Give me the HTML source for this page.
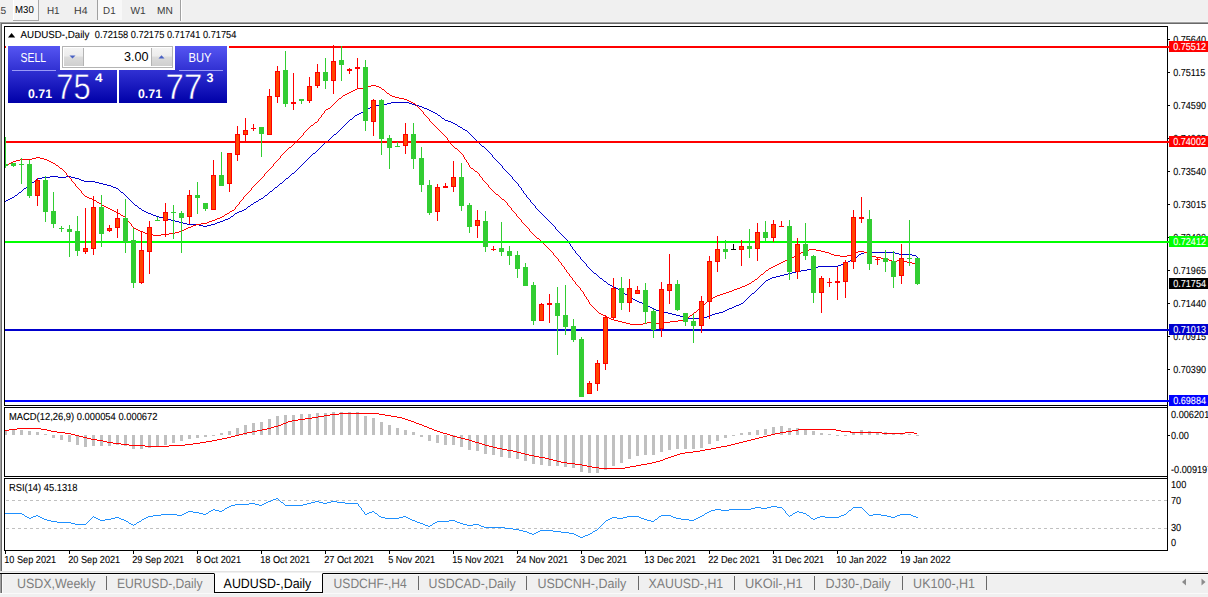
<!DOCTYPE html>
<html><head><meta charset="utf-8"><title>AUDUSD-,Daily</title>
<style>
html,body{margin:0;padding:0}
body{width:1208px;height:597px;overflow:hidden;background:#f0f0f0;position:relative;font-family:"Liberation Sans",sans-serif}
.abs{position:absolute}
#chart{position:absolute;left:0;top:0}
text{font-family:"Liberation Sans",sans-serif;text-rendering:geometricPrecision}
.t{font-size:10.2px;fill:#000;stroke:#000;stroke-width:.1px}
.w{font-size:10.2px;fill:#fff;stroke:#fff;stroke-width:.1px}
.tb{position:absolute;top:0;height:20px;line-height:20px;font-size:10.5px;color:#3c3c3c;white-space:pre}
.tab{position:absolute;top:574px;height:18px;line-height:18px;font-size:13.5px;color:#7d7d7d;white-space:pre}
.sep{position:absolute;top:576px;width:1px;height:14px;background:#696969}
</style></head><body>

<div class="abs" style="left:13px;top:0;width:25px;height:20px;background:#f6f6f6;border-right:1px solid #a8a8a8;border-bottom:1px solid #a8a8a8"></div>
<div class="abs" style="left:13px;top:0;width:1px;height:20px;background:#fff"></div>
<div class="abs" style="left:98px;top:0;width:24px;height:20px;background:#f8f8f8"></div>
<div class="abs" style="left:97px;top:0;width:1px;height:20px;background:#a0a0a0"></div>
<div class="abs" style="left:180px;top:0;width:1px;height:22px;background:#a0a0a0"></div>
<div class="abs" style="left:181px;top:0;width:1px;height:22px;background:#fff"></div>
<div class="abs" style="left:0;top:21px;width:1208px;height:1px;background:#f4f4f4"></div>
<div class="abs" style="left:0;top:22px;width:1208px;height:1px;background:#a0a0a0"></div>
<div class="abs" style="left:0;top:23px;width:1208px;height:1px;background:#696969"></div>
<div class="abs" style="left:0;top:24px;width:1208px;height:547px;background:#fff"></div>
<div class="abs" style="left:0;top:22px;width:1px;height:549px;background:#a0a0a0"></div>
<div class="abs" style="left:1px;top:23px;width:1px;height:548px;background:#696969"></div>
<div class="abs" style="left:0;top:571px;width:1208px;height:1px;background:#e3e3e3"></div>
<div class="abs" style="left:0;top:573px;width:1208px;height:1px;background:#000"></div>
<div class="abs" style="left:2px;top:574px;width:1206px;height:1px;background:#f8f8f8"></div>
<div class="abs" style="left:0;top:574px;width:1px;height:19px;background:#a0a0a0"></div>
<div class="abs" style="left:1px;top:574px;width:1px;height:19px;background:#696969"></div>
<div class="abs" style="left:2px;top:574px;width:1px;height:19px;background:#fbfbfb"></div>
<div class="abs" style="left:0;top:593px;width:1208px;height:1px;background:#fafafa"></div>
<svg id="chart" width="1208" height="597" viewBox="0 0 1208 597" shape-rendering="crispEdges">
<path fill="none" stroke="#0000cd" stroke-width="1" d="M391 102.5h18M387 103.5h4M409 103.5h3M380 104.5h7M412 104.5h3M375 105.5h5M415 105.5h4M372 106.5h3M419 106.5h3M370 107.5h2M422 107.5h2M368 108.5h2M424 108.5h3M366 109.5h2M427 109.5h2M364 110.5h2M429 110.5h2M363 111.5h1M431 111.5h2M361 112.5h2M433 112.5h2M359 113.5h2M435 113.5h2M357 114.5h2M437 114.5h1M355 115.5h2M438 115.5h2M354 116.5h1M440 116.5h1M353 117.5h1M441 117.5h1M352 118.5h1M442 118.5h2M350 119.5h2M444 119.5h1M349 120.5h1M445 120.5h3M348 121.5h1M448 121.5h3M347 122.5h1M451 122.5h2M346 123.5h1M453 123.5h2M345 124.5h1M455 124.5h2M344 125.5h1M457 125.5h1M343 126.5h1M458 126.5h2M342 127.5h1M460 127.5h2M341 128.5h1M462 128.5h1M340 129.5h1M463 129.5h2M339 130.5h1M465 130.5h2M338 131.5h1M467 131.5h1M337 132.5h1M468 132.5h1M336 133.5h1M469 133.5h1M334 134.5h2M470 134.5h1M333 135.5h1M471 135.5h1M332 136.5h1M472 136.5h1M331 137.5h1M473 137.5h1M330 138.5h1M474 138.5h1M329 139.5h1M475 139.5h1M328 140.5h1M476 140.5h1M327 141.5h1M477 141.5h1M325 142.5h2M478 142.5h1M324 143.5h1M479 143.5h1M323 144.5h1M480 144.5h1M322 145.5h1M481 145.5h1M321 146.5h1M482 146.5h2M320 147.5h1M484 147.5h1M319 148.5h1M485 148.5h1M318 149.5h1M486 149.5h1M317 150.5h1M487 150.5h1M316 151.5h1M488 151.5h1M315 152.5h1M489 152.5h1M313 153.5h2M490 153.5h1M312 154.5h1M491 154.5h1M311 155.5h1M492 155.5h1M310 156.5h1M492 156.5h1M309 157.5h1M493 157.5h1M308 158.5h1M494 158.5h1M307 159.5h1M495 159.5h1M306 160.5h1M496 160.5h1M305 161.5h1M497 161.5h1M304 162.5h1M498 162.5h1M303 163.5h1M499 163.5h1M302 164.5h1M500 164.5h1M301 165.5h1M501 165.5h1M300 166.5h1M502 166.5h1M299 167.5h1M502 167.5h1M298 168.5h1M503 168.5h1M297 169.5h1M504 169.5h1M296 170.5h1M505 170.5h1M295 171.5h1M506 171.5h1M294 172.5h1M507 172.5h1M292 173.5h2M508 173.5h1M291 174.5h1M509 174.5h1M290 175.5h1M510 175.5h1M50 176.5h8M66 176.5h5M289 176.5h1M511 176.5h1M42 177.5h8M58 177.5h8M71 177.5h4M288 177.5h1M512 177.5h1M38 178.5h4M75 178.5h4M286 178.5h2M512 178.5h1M36 179.5h2M79 179.5h2M285 179.5h1M513 179.5h1M35 180.5h1M81 180.5h3M284 180.5h1M514 180.5h1M34 181.5h1M84 181.5h11M283 181.5h1M515 181.5h1M32 182.5h2M95 182.5h4M282 182.5h1M516 182.5h1M31 183.5h1M99 183.5h4M280 183.5h2M517 183.5h1M30 184.5h1M103 184.5h4M279 184.5h1M518 184.5h1M28 185.5h2M107 185.5h4M278 185.5h1M518 185.5h1M27 186.5h1M111 186.5h2M277 186.5h1M519 186.5h1M26 187.5h1M113 187.5h3M275 187.5h2M520 187.5h1M24 188.5h2M116 188.5h2M274 188.5h1M521 188.5h1M23 189.5h1M118 189.5h1M273 189.5h1M521 189.5h1M22 190.5h1M119 190.5h1M272 190.5h1M522 190.5h1M21 191.5h1M120 191.5h1M270 191.5h2M523 191.5h1M19 192.5h2M121 192.5h2M269 192.5h1M523 192.5h1M18 193.5h1M123 193.5h1M268 193.5h1M524 193.5h1M17 194.5h1M124 194.5h1M267 194.5h1M525 194.5h1M15 195.5h2M125 195.5h1M265 195.5h2M526 195.5h1M14 196.5h1M126 196.5h1M264 196.5h1M526 196.5h1M12 197.5h2M127 197.5h1M263 197.5h1M527 197.5h1M10 198.5h2M128 198.5h1M261 198.5h2M528 198.5h1M8 199.5h2M129 199.5h1M259 199.5h2M529 199.5h1M6 200.5h2M130 200.5h1M258 200.5h1M530 200.5h1M5 201.5h1M131 201.5h1M256 201.5h2M530 201.5h1M132 202.5h1M254 202.5h2M531 202.5h1M133 203.5h1M253 203.5h1M532 203.5h1M134 204.5h1M251 204.5h2M533 204.5h1M135 205.5h2M250 205.5h1M534 205.5h1M137 206.5h1M248 206.5h2M535 206.5h1M138 207.5h1M247 207.5h1M535 207.5h1M139 208.5h2M246 208.5h1M536 208.5h1M141 209.5h1M244 209.5h2M537 209.5h1M142 210.5h2M242 210.5h2M538 210.5h1M144 211.5h2M239 211.5h3M539 211.5h1M146 212.5h2M237 212.5h2M540 212.5h1M148 213.5h3M235 213.5h2M541 213.5h1M151 214.5h2M234 214.5h1M542 214.5h1M153 215.5h3M233 215.5h1M543 215.5h1M156 216.5h3M231 216.5h2M544 216.5h1M159 217.5h4M230 217.5h1M545 217.5h1M163 218.5h4M228 218.5h2M546 218.5h1M167 219.5h4M225 219.5h3M547 219.5h1M171 220.5h4M223 220.5h2M548 220.5h1M175 221.5h4M220 221.5h3M549 221.5h1M179 222.5h4M217 222.5h3M550 222.5h1M183 223.5h4M215 223.5h2M551 223.5h1M187 224.5h12M211 224.5h4M552 224.5h1M199 225.5h4M207 225.5h4M553 225.5h1M203 226.5h4M554 226.5h1M555 227.5h1M555 228.5h1M556 229.5h1M557 230.5h1M558 231.5h1M559 232.5h1M560 233.5h1M561 234.5h1M562 235.5h1M563 236.5h1M564 237.5h1M565 238.5h1M566 239.5h1M567 240.5h1M568 241.5h1M568 242.5h1M569 243.5h1M570 244.5h1M570 245.5h1M571 246.5h1M572 247.5h1M572 248.5h1M573 249.5h1M574 250.5h1M575 251.5h1M575 252.5h1M864 252.5h31M576 253.5h1M861 253.5h3M895 253.5h4M577 254.5h1M859 254.5h2M899 254.5h13M578 255.5h1M858 255.5h1M912 255.5h4M579 256.5h1M857 256.5h1M916 256.5h1M580 257.5h1M855 257.5h2M917 257.5h1M580 258.5h1M854 258.5h1M581 259.5h1M852 259.5h2M582 260.5h1M850 260.5h2M583 261.5h1M848 261.5h2M584 262.5h1M846 262.5h2M585 263.5h1M844 263.5h2M586 264.5h1M841 264.5h3M586 265.5h1M838 265.5h3M587 266.5h1M818 266.5h20M588 267.5h1M814 267.5h4M589 268.5h1M811 268.5h3M590 269.5h1M807 269.5h4M591 270.5h1M801 270.5h6M592 271.5h1M796 271.5h5M593 272.5h1M792 272.5h4M594 273.5h2M788 273.5h4M596 274.5h1M784 274.5h4M597 275.5h1M780 275.5h4M598 276.5h1M776 276.5h4M599 277.5h1M772 277.5h4M600 278.5h2M770 278.5h2M602 279.5h1M768 279.5h2M603 280.5h1M766 280.5h2M604 281.5h2M765 281.5h1M606 282.5h1M764 282.5h1M607 283.5h1M763 283.5h1M608 284.5h2M762 284.5h1M610 285.5h2M761 285.5h1M612 286.5h2M760 286.5h1M614 287.5h2M759 287.5h1M616 288.5h2M758 288.5h1M618 289.5h1M757 289.5h1M619 290.5h2M756 290.5h1M621 291.5h1M755 291.5h1M622 292.5h2M754 292.5h1M624 293.5h1M752 293.5h2M625 294.5h2M751 294.5h1M627 295.5h1M750 295.5h1M628 296.5h2M749 296.5h1M630 297.5h2M748 297.5h1M632 298.5h1M747 298.5h1M633 299.5h2M746 299.5h1M635 300.5h2M745 300.5h1M637 301.5h2M744 301.5h1M639 302.5h3M743 302.5h1M642 303.5h2M741 303.5h2M644 304.5h2M739 304.5h2M646 305.5h2M736 305.5h3M648 306.5h2M734 306.5h2M650 307.5h2M732 307.5h2M652 308.5h2M729 308.5h3M654 309.5h2M727 309.5h2M656 310.5h3M725 310.5h2M659 311.5h4M723 311.5h2M663 312.5h5M719 312.5h4M668 313.5h4M715 313.5h4M672 314.5h4M712 314.5h3M676 315.5h4M709 315.5h3M680 316.5h4M707 316.5h2M684 317.5h3M701 317.5h6M687 318.5h14"/>
<path fill="none" stroke="#ff0000" stroke-width="1" d="M371 85.5h5M367 86.5h4M376 86.5h3M365 87.5h2M379 87.5h2M357 88.5h8M381 88.5h1M355 89.5h2M382 89.5h2M353 90.5h2M384 90.5h1M351 91.5h2M385 91.5h1M349 92.5h2M386 92.5h1M347 93.5h2M387 93.5h2M345 94.5h2M389 94.5h1M343 95.5h2M390 95.5h2M342 96.5h1M392 96.5h3M341 97.5h1M395 97.5h4M339 98.5h2M399 98.5h5M338 99.5h1M404 99.5h3M337 100.5h1M407 100.5h2M336 101.5h1M409 101.5h2M335 102.5h1M411 102.5h2M334 103.5h1M413 103.5h2M333 104.5h1M415 104.5h1M332 105.5h1M416 105.5h1M331 106.5h1M417 106.5h1M330 107.5h1M418 107.5h1M328 108.5h2M419 108.5h1M326 109.5h2M420 109.5h1M325 110.5h1M421 110.5h1M324 111.5h1M422 111.5h1M324 112.5h1M423 112.5h1M323 113.5h1M423 113.5h1M322 114.5h1M424 114.5h1M321 115.5h1M425 115.5h1M321 116.5h1M426 116.5h1M320 117.5h1M427 117.5h1M319 118.5h1M428 118.5h1M318 119.5h1M429 119.5h1M318 120.5h1M429 120.5h1M317 121.5h1M430 121.5h1M315 122.5h2M431 122.5h1M314 123.5h1M432 123.5h1M313 124.5h1M433 124.5h1M311 125.5h2M434 125.5h1M310 126.5h1M435 126.5h1M309 127.5h1M436 127.5h1M308 128.5h1M437 128.5h1M307 129.5h1M438 129.5h1M306 130.5h1M439 130.5h1M305 131.5h1M440 131.5h1M304 132.5h1M441 132.5h1M303 133.5h1M442 133.5h1M303 134.5h1M443 134.5h1M302 135.5h1M444 135.5h1M301 136.5h1M445 136.5h1M300 137.5h1M446 137.5h1M299 138.5h1M447 138.5h1M298 139.5h1M447 139.5h1M297 140.5h1M448 140.5h1M296 141.5h1M448 141.5h1M295 142.5h1M449 142.5h1M294 143.5h1M450 143.5h1M293 144.5h1M451 144.5h1M292 145.5h1M452 145.5h1M291 146.5h1M453 146.5h1M289 147.5h2M454 147.5h1M288 148.5h1M455 148.5h2M287 149.5h1M457 149.5h1M286 150.5h1M458 150.5h1M285 151.5h1M459 151.5h1M284 152.5h1M460 152.5h1M283 153.5h1M461 153.5h1M282 154.5h1M462 154.5h1M281 155.5h1M463 155.5h1M280 156.5h1M463 156.5h1M36 157.5h4M280 157.5h1M464 157.5h1M32 158.5h4M40 158.5h4M279 158.5h1M464 158.5h1M20 159.5h12M44 159.5h3M278 159.5h1M465 159.5h1M16 160.5h4M47 160.5h2M277 160.5h1M466 160.5h1M13 161.5h3M49 161.5h2M276 161.5h1M466 161.5h1M11 162.5h2M51 162.5h2M275 162.5h1M467 162.5h1M9 163.5h2M53 163.5h2M274 163.5h1M468 163.5h1M8 164.5h1M55 164.5h1M273 164.5h1M468 164.5h1M6 165.5h2M56 165.5h2M273 165.5h1M469 165.5h1M5 166.5h1M58 166.5h1M272 166.5h1M469 166.5h1M59 167.5h1M271 167.5h1M470 167.5h1M60 168.5h2M270 168.5h1M471 168.5h2M62 169.5h1M269 169.5h1M473 169.5h1M63 170.5h1M268 170.5h1M474 170.5h1M64 171.5h1M267 171.5h1M475 171.5h2M65 172.5h1M266 172.5h1M477 172.5h1M66 173.5h1M265 173.5h1M478 173.5h1M66 174.5h1M264 174.5h1M479 174.5h1M67 175.5h1M264 175.5h1M479 175.5h1M68 176.5h1M263 176.5h1M480 176.5h1M69 177.5h1M262 177.5h1M481 177.5h1M70 178.5h1M261 178.5h1M482 178.5h1M71 179.5h1M260 179.5h1M482 179.5h1M71 180.5h1M259 180.5h1M483 180.5h1M72 181.5h1M258 181.5h1M484 181.5h1M73 182.5h1M257 182.5h1M485 182.5h1M74 183.5h1M256 183.5h1M486 183.5h1M75 184.5h1M255 184.5h1M487 184.5h1M75 185.5h1M254 185.5h1M488 185.5h1M76 186.5h1M253 186.5h1M488 186.5h1M77 187.5h1M252 187.5h1M489 187.5h1M78 188.5h1M251 188.5h1M490 188.5h1M79 189.5h1M251 189.5h1M491 189.5h1M80 190.5h1M250 190.5h1M492 190.5h1M81 191.5h1M249 191.5h1M493 191.5h1M81 192.5h1M248 192.5h1M494 192.5h1M82 193.5h1M247 193.5h1M495 193.5h1M83 194.5h1M246 194.5h1M496 194.5h2M84 195.5h1M245 195.5h1M498 195.5h1M85 196.5h2M244 196.5h1M499 196.5h1M87 197.5h2M243 197.5h1M500 197.5h1M89 198.5h3M243 198.5h1M501 198.5h1M92 199.5h2M242 199.5h1M502 199.5h2M94 200.5h2M241 200.5h1M504 200.5h1M96 201.5h1M240 201.5h1M505 201.5h1M97 202.5h2M239 202.5h1M506 202.5h1M99 203.5h2M239 203.5h1M507 203.5h1M101 204.5h1M238 204.5h1M507 204.5h1M102 205.5h2M237 205.5h1M508 205.5h1M104 206.5h2M236 206.5h1M509 206.5h1M106 207.5h2M235 207.5h1M510 207.5h1M108 208.5h2M235 208.5h1M511 208.5h1M110 209.5h2M234 209.5h1M511 209.5h1M112 210.5h2M232 210.5h2M512 210.5h1M114 211.5h2M230 211.5h2M513 211.5h1M116 212.5h2M229 212.5h1M514 212.5h1M118 213.5h2M227 213.5h2M515 213.5h1M120 214.5h1M225 214.5h2M516 214.5h1M121 215.5h2M224 215.5h1M516 215.5h1M123 216.5h2M222 216.5h2M517 216.5h1M125 217.5h1M220 217.5h2M518 217.5h1M126 218.5h1M217 218.5h3M519 218.5h1M127 219.5h1M215 219.5h2M520 219.5h1M127 220.5h1M212 220.5h3M521 220.5h1M128 221.5h1M209 221.5h3M521 221.5h1M129 222.5h1M207 222.5h2M522 222.5h1M130 223.5h1M201 223.5h6M523 223.5h1M131 224.5h1M196 224.5h5M524 224.5h1M131 225.5h1M193 225.5h3M525 225.5h1M132 226.5h1M191 226.5h2M526 226.5h1M133 227.5h1M188 227.5h3M527 227.5h1M134 228.5h2M186 228.5h2M528 228.5h1M136 229.5h2M184 229.5h2M529 229.5h1M138 230.5h2M182 230.5h2M529 230.5h1M140 231.5h3M179 231.5h3M530 231.5h1M143 232.5h2M175 232.5h4M531 232.5h1M145 233.5h3M169 233.5h6M532 233.5h1M148 234.5h5M161 234.5h8M533 234.5h1M153 235.5h8M534 235.5h1M535 236.5h1M536 237.5h1M537 238.5h2M539 239.5h1M540 240.5h1M541 241.5h1M542 242.5h1M543 243.5h1M544 244.5h1M545 245.5h1M546 246.5h1M547 247.5h1M548 248.5h1M549 249.5h1M809 249.5h7M550 250.5h1M805 250.5h4M816 250.5h5M551 251.5h1M803 251.5h2M821 251.5h4M858 251.5h6M552 252.5h1M801 252.5h2M825 252.5h4M856 252.5h2M864 252.5h3M553 253.5h1M800 253.5h1M829 253.5h2M854 253.5h2M867 253.5h1M553 254.5h1M798 254.5h2M831 254.5h3M852 254.5h2M868 254.5h2M554 255.5h1M796 255.5h2M834 255.5h6M847 255.5h5M870 255.5h2M555 256.5h1M794 256.5h2M840 256.5h7M872 256.5h4M556 257.5h1M792 257.5h2M876 257.5h5M557 258.5h1M789 258.5h3M881 258.5h6M558 259.5h1M787 259.5h2M887 259.5h2M558 260.5h1M785 260.5h2M889 260.5h3M897 260.5h6M559 261.5h1M783 261.5h2M892 261.5h5M903 261.5h4M560 262.5h1M781 262.5h2M907 262.5h5M561 263.5h1M779 263.5h2M912 263.5h4M561 264.5h1M777 264.5h2M562 265.5h1M775 265.5h2M563 266.5h1M773 266.5h2M564 267.5h1M771 267.5h2M564 268.5h1M769 268.5h2M565 269.5h1M768 269.5h1M566 270.5h1M766 270.5h2M566 271.5h1M765 271.5h1M567 272.5h1M764 272.5h1M568 273.5h1M763 273.5h1M569 274.5h1M761 274.5h2M569 275.5h1M760 275.5h1M570 276.5h1M759 276.5h1M571 277.5h1M758 277.5h1M572 278.5h1M757 278.5h1M572 279.5h1M755 279.5h2M573 280.5h1M754 280.5h1M574 281.5h1M752 281.5h2M575 282.5h1M751 282.5h1M575 283.5h1M749 283.5h2M576 284.5h1M747 284.5h2M577 285.5h1M745 285.5h2M578 286.5h1M742 286.5h3M579 287.5h1M740 287.5h2M580 288.5h1M737 288.5h3M580 289.5h1M734 289.5h3M581 290.5h1M732 290.5h2M582 291.5h1M729 291.5h3M583 292.5h1M726 292.5h3M583 293.5h1M723 293.5h3M584 294.5h1M720 294.5h3M584 295.5h1M717 295.5h3M585 296.5h1M715 296.5h2M586 297.5h1M713 297.5h2M586 298.5h1M711 298.5h2M587 299.5h1M710 299.5h1M588 300.5h1M709 300.5h1M588 301.5h1M707 301.5h2M589 302.5h1M706 302.5h1M589 303.5h1M705 303.5h1M590 304.5h1M704 304.5h1M591 305.5h1M703 305.5h1M592 306.5h1M702 306.5h1M593 307.5h1M700 307.5h2M594 308.5h1M699 308.5h1M595 309.5h1M698 309.5h1M596 310.5h1M697 310.5h1M597 311.5h1M696 311.5h1M598 312.5h1M694 312.5h2M599 313.5h2M693 313.5h1M601 314.5h2M692 314.5h1M603 315.5h2M690 315.5h2M605 316.5h2M689 316.5h1M607 317.5h2M687 317.5h2M609 318.5h2M685 318.5h2M611 319.5h3M683 319.5h2M614 320.5h4M678 320.5h5M618 321.5h4M670 321.5h8M622 322.5h4M647 322.5h6M661 322.5h9M626 323.5h4M643 323.5h4M653 323.5h8M630 324.5h13"/>
<rect x="5" y="46" width="1162" height="2" fill="#ff0000"/>
<rect x="5" y="141" width="1162" height="2" fill="#ff0000"/>
<rect x="5" y="241" width="1162" height="2" fill="#00ff00"/>
<rect x="5" y="329" width="1162" height="2" fill="#0000cd"/>
<rect x="5" y="400" width="1162" height="2" fill="#0000ff"/>
<rect x="5" y="137" width="1" height="31" fill="#32cd32"/>
<rect x="5" y="164" width="3" height="2" fill="#32cd32"/>
<rect x="13" y="163" width="1" height="4" fill="#32cd32"/>
<rect x="11" y="163" width="5" height="3" fill="#32cd32"/>
<rect x="21" y="158" width="1" height="26" fill="#32cd32"/>
<rect x="19" y="164" width="5" height="1" fill="#32cd32"/>
<rect x="29" y="160" width="1" height="38" fill="#32cd32"/>
<rect x="27" y="164" width="5" height="32" fill="#32cd32"/>
<rect x="37" y="178" width="1" height="28" fill="#ff0000"/>
<rect x="35" y="180" width="5" height="16" fill="#ff0000"/>
<rect x="36" y="181" width="3" height="14" fill="#ff4500"/>
<rect x="45" y="176" width="1" height="46" fill="#32cd32"/>
<rect x="43" y="180" width="5" height="32" fill="#32cd32"/>
<rect x="53" y="192" width="1" height="36" fill="#32cd32"/>
<rect x="51" y="211" width="5" height="13" fill="#32cd32"/>
<rect x="61" y="226" width="1" height="6" fill="#32cd32"/>
<rect x="59" y="228" width="5" height="1" fill="#32cd32"/>
<rect x="69" y="225" width="1" height="32" fill="#32cd32"/>
<rect x="67" y="229" width="5" height="3" fill="#32cd32"/>
<rect x="77" y="216" width="1" height="40" fill="#32cd32"/>
<rect x="75" y="231" width="5" height="20" fill="#32cd32"/>
<rect x="85" y="208" width="1" height="46" fill="#ff0000"/>
<rect x="83" y="248" width="5" height="4" fill="#ff0000"/>
<rect x="84" y="249" width="3" height="2" fill="#ff4500"/>
<rect x="93" y="196" width="1" height="59" fill="#ff0000"/>
<rect x="91" y="207" width="5" height="42" fill="#ff0000"/>
<rect x="92" y="208" width="3" height="40" fill="#ff4500"/>
<rect x="101" y="195" width="1" height="52" fill="#32cd32"/>
<rect x="99" y="207" width="5" height="27" fill="#32cd32"/>
<rect x="109" y="225" width="1" height="7" fill="#ff0000"/>
<rect x="107" y="228" width="5" height="3" fill="#ff0000"/>
<rect x="108" y="229" width="3" height="1" fill="#ff4500"/>
<rect x="117" y="209" width="1" height="29" fill="#ff0000"/>
<rect x="115" y="218" width="5" height="10" fill="#ff0000"/>
<rect x="116" y="219" width="3" height="8" fill="#ff4500"/>
<rect x="125" y="199" width="1" height="54" fill="#32cd32"/>
<rect x="123" y="218" width="5" height="24" fill="#32cd32"/>
<rect x="133" y="228" width="1" height="60" fill="#32cd32"/>
<rect x="131" y="240" width="5" height="43" fill="#32cd32"/>
<rect x="141" y="231" width="1" height="53" fill="#ff0000"/>
<rect x="139" y="250" width="5" height="33" fill="#ff0000"/>
<rect x="140" y="251" width="3" height="31" fill="#ff4500"/>
<rect x="149" y="221" width="1" height="53" fill="#ff0000"/>
<rect x="147" y="227" width="5" height="25" fill="#ff0000"/>
<rect x="148" y="228" width="3" height="23" fill="#ff4500"/>
<rect x="157" y="217" width="1" height="4" fill="#32cd32"/>
<rect x="155" y="220" width="5" height="1" fill="#32cd32"/>
<rect x="165" y="203" width="1" height="34" fill="#ff0000"/>
<rect x="163" y="212" width="5" height="9" fill="#ff0000"/>
<rect x="164" y="213" width="3" height="7" fill="#ff4500"/>
<rect x="173" y="205" width="1" height="34" fill="#32cd32"/>
<rect x="171" y="212" width="5" height="1" fill="#32cd32"/>
<rect x="181" y="211" width="1" height="42" fill="#32cd32"/>
<rect x="179" y="213" width="5" height="5" fill="#32cd32"/>
<rect x="189" y="190" width="1" height="34" fill="#ff0000"/>
<rect x="187" y="195" width="5" height="22" fill="#ff0000"/>
<rect x="188" y="196" width="3" height="20" fill="#ff4500"/>
<rect x="197" y="182" width="1" height="32" fill="#32cd32"/>
<rect x="195" y="195" width="5" height="3" fill="#32cd32"/>
<rect x="205" y="203" width="1" height="8" fill="#32cd32"/>
<rect x="203" y="203" width="5" height="6" fill="#32cd32"/>
<rect x="213" y="160" width="1" height="50" fill="#ff0000"/>
<rect x="211" y="175" width="5" height="35" fill="#ff0000"/>
<rect x="212" y="176" width="3" height="33" fill="#ff4500"/>
<rect x="221" y="152" width="1" height="34" fill="#32cd32"/>
<rect x="219" y="175" width="5" height="11" fill="#32cd32"/>
<rect x="229" y="153" width="1" height="39" fill="#ff0000"/>
<rect x="227" y="153" width="5" height="31" fill="#ff0000"/>
<rect x="228" y="154" width="3" height="29" fill="#ff4500"/>
<rect x="237" y="126" width="1" height="35" fill="#ff0000"/>
<rect x="235" y="134" width="5" height="21" fill="#ff0000"/>
<rect x="236" y="135" width="3" height="19" fill="#ff4500"/>
<rect x="245" y="118" width="1" height="23" fill="#ff0000"/>
<rect x="243" y="130" width="5" height="5" fill="#ff0000"/>
<rect x="244" y="131" width="3" height="3" fill="#ff4500"/>
<rect x="253" y="124" width="1" height="7" fill="#ff0000"/>
<rect x="251" y="128" width="5" height="1" fill="#ff0000"/>
<rect x="261" y="127" width="1" height="30" fill="#32cd32"/>
<rect x="259" y="127" width="5" height="7" fill="#32cd32"/>
<rect x="269" y="89" width="1" height="46" fill="#ff0000"/>
<rect x="267" y="96" width="5" height="39" fill="#ff0000"/>
<rect x="268" y="97" width="3" height="37" fill="#ff4500"/>
<rect x="277" y="66" width="1" height="37" fill="#ff0000"/>
<rect x="275" y="71" width="5" height="26" fill="#ff0000"/>
<rect x="276" y="72" width="3" height="24" fill="#ff4500"/>
<rect x="285" y="51" width="1" height="56" fill="#32cd32"/>
<rect x="283" y="70" width="5" height="34" fill="#32cd32"/>
<rect x="293" y="73" width="1" height="37" fill="#ff0000"/>
<rect x="291" y="102" width="5" height="2" fill="#ff0000"/>
<rect x="301" y="99" width="1" height="5" fill="#32cd32"/>
<rect x="299" y="99" width="5" height="2" fill="#32cd32"/>
<rect x="309" y="77" width="1" height="26" fill="#ff0000"/>
<rect x="307" y="86" width="5" height="15" fill="#ff0000"/>
<rect x="308" y="87" width="3" height="13" fill="#ff4500"/>
<rect x="317" y="64" width="1" height="24" fill="#ff0000"/>
<rect x="315" y="72" width="5" height="14" fill="#ff0000"/>
<rect x="316" y="73" width="3" height="12" fill="#ff4500"/>
<rect x="325" y="58" width="1" height="31" fill="#32cd32"/>
<rect x="323" y="72" width="5" height="9" fill="#32cd32"/>
<rect x="333" y="45" width="1" height="49" fill="#ff0000"/>
<rect x="331" y="61" width="5" height="20" fill="#ff0000"/>
<rect x="332" y="62" width="3" height="18" fill="#ff4500"/>
<rect x="341" y="46" width="1" height="35" fill="#32cd32"/>
<rect x="339" y="60" width="5" height="5" fill="#32cd32"/>
<rect x="349" y="68" width="1" height="6" fill="#ff0000"/>
<rect x="347" y="69" width="5" height="2" fill="#ff0000"/>
<rect x="357" y="58" width="1" height="31" fill="#ff0000"/>
<rect x="355" y="67" width="5" height="2" fill="#ff0000"/>
<rect x="365" y="60" width="1" height="71" fill="#32cd32"/>
<rect x="363" y="67" width="5" height="54" fill="#32cd32"/>
<rect x="373" y="99" width="1" height="37" fill="#ff0000"/>
<rect x="371" y="100" width="5" height="22" fill="#ff0000"/>
<rect x="372" y="101" width="3" height="20" fill="#ff4500"/>
<rect x="381" y="99" width="1" height="56" fill="#32cd32"/>
<rect x="379" y="100" width="5" height="39" fill="#32cd32"/>
<rect x="389" y="135" width="1" height="34" fill="#32cd32"/>
<rect x="387" y="138" width="5" height="10" fill="#32cd32"/>
<rect x="397" y="142" width="1" height="5" fill="#32cd32"/>
<rect x="395" y="146" width="5" height="1" fill="#32cd32"/>
<rect x="405" y="123" width="1" height="31" fill="#ff0000"/>
<rect x="403" y="134" width="5" height="12" fill="#ff0000"/>
<rect x="404" y="135" width="3" height="10" fill="#ff4500"/>
<rect x="413" y="123" width="1" height="46" fill="#32cd32"/>
<rect x="411" y="134" width="5" height="25" fill="#32cd32"/>
<rect x="421" y="147" width="1" height="45" fill="#32cd32"/>
<rect x="419" y="158" width="5" height="27" fill="#32cd32"/>
<rect x="429" y="180" width="1" height="35" fill="#32cd32"/>
<rect x="427" y="185" width="5" height="28" fill="#32cd32"/>
<rect x="437" y="184" width="1" height="37" fill="#ff0000"/>
<rect x="435" y="187" width="5" height="25" fill="#ff0000"/>
<rect x="436" y="188" width="3" height="23" fill="#ff4500"/>
<rect x="445" y="183" width="1" height="5" fill="#ff0000"/>
<rect x="443" y="186" width="5" height="2" fill="#ff0000"/>
<rect x="453" y="161" width="1" height="31" fill="#ff0000"/>
<rect x="451" y="177" width="5" height="10" fill="#ff0000"/>
<rect x="452" y="178" width="3" height="8" fill="#ff4500"/>
<rect x="461" y="163" width="1" height="48" fill="#32cd32"/>
<rect x="459" y="177" width="5" height="29" fill="#32cd32"/>
<rect x="469" y="203" width="1" height="30" fill="#32cd32"/>
<rect x="467" y="205" width="5" height="22" fill="#32cd32"/>
<rect x="477" y="210" width="1" height="28" fill="#ff0000"/>
<rect x="475" y="220" width="5" height="6" fill="#ff0000"/>
<rect x="476" y="221" width="3" height="4" fill="#ff4500"/>
<rect x="485" y="211" width="1" height="41" fill="#32cd32"/>
<rect x="483" y="221" width="5" height="26" fill="#32cd32"/>
<rect x="493" y="246" width="1" height="5" fill="#ff0000"/>
<rect x="491" y="249" width="5" height="1" fill="#ff0000"/>
<rect x="501" y="222" width="1" height="34" fill="#32cd32"/>
<rect x="499" y="248" width="5" height="4" fill="#32cd32"/>
<rect x="509" y="246" width="1" height="19" fill="#32cd32"/>
<rect x="507" y="251" width="5" height="5" fill="#32cd32"/>
<rect x="517" y="251" width="1" height="27" fill="#32cd32"/>
<rect x="515" y="255" width="5" height="14" fill="#32cd32"/>
<rect x="525" y="263" width="1" height="23" fill="#32cd32"/>
<rect x="523" y="267" width="5" height="19" fill="#32cd32"/>
<rect x="533" y="282" width="1" height="43" fill="#32cd32"/>
<rect x="531" y="285" width="5" height="36" fill="#32cd32"/>
<rect x="541" y="303" width="1" height="18" fill="#ff0000"/>
<rect x="539" y="304" width="5" height="17" fill="#ff0000"/>
<rect x="540" y="305" width="3" height="15" fill="#ff4500"/>
<rect x="549" y="294" width="1" height="29" fill="#ff0000"/>
<rect x="547" y="303" width="5" height="2" fill="#ff0000"/>
<rect x="557" y="287" width="1" height="68" fill="#32cd32"/>
<rect x="555" y="303" width="5" height="13" fill="#32cd32"/>
<rect x="565" y="285" width="1" height="50" fill="#32cd32"/>
<rect x="563" y="315" width="5" height="12" fill="#32cd32"/>
<rect x="573" y="319" width="1" height="23" fill="#32cd32"/>
<rect x="571" y="326" width="5" height="14" fill="#32cd32"/>
<rect x="581" y="337" width="1" height="60" fill="#32cd32"/>
<rect x="579" y="339" width="5" height="58" fill="#32cd32"/>
<rect x="589" y="381" width="1" height="13" fill="#ff0000"/>
<rect x="587" y="383" width="5" height="11" fill="#ff0000"/>
<rect x="588" y="384" width="3" height="9" fill="#ff4500"/>
<rect x="597" y="360" width="1" height="31" fill="#ff0000"/>
<rect x="595" y="363" width="5" height="21" fill="#ff0000"/>
<rect x="596" y="364" width="3" height="19" fill="#ff4500"/>
<rect x="605" y="315" width="1" height="55" fill="#ff0000"/>
<rect x="603" y="317" width="5" height="47" fill="#ff0000"/>
<rect x="604" y="318" width="3" height="45" fill="#ff4500"/>
<rect x="613" y="278" width="1" height="42" fill="#ff0000"/>
<rect x="611" y="288" width="5" height="30" fill="#ff0000"/>
<rect x="612" y="289" width="3" height="28" fill="#ff4500"/>
<rect x="621" y="277" width="1" height="33" fill="#32cd32"/>
<rect x="619" y="288" width="5" height="15" fill="#32cd32"/>
<rect x="629" y="279" width="1" height="33" fill="#ff0000"/>
<rect x="627" y="288" width="5" height="15" fill="#ff0000"/>
<rect x="628" y="289" width="3" height="13" fill="#ff4500"/>
<rect x="637" y="286" width="1" height="8" fill="#ff0000"/>
<rect x="635" y="290" width="5" height="4" fill="#ff0000"/>
<rect x="636" y="291" width="3" height="2" fill="#ff4500"/>
<rect x="645" y="283" width="1" height="41" fill="#32cd32"/>
<rect x="643" y="290" width="5" height="22" fill="#32cd32"/>
<rect x="653" y="309" width="1" height="29" fill="#32cd32"/>
<rect x="651" y="311" width="5" height="19" fill="#32cd32"/>
<rect x="661" y="282" width="1" height="55" fill="#ff0000"/>
<rect x="659" y="289" width="5" height="40" fill="#ff0000"/>
<rect x="660" y="290" width="3" height="38" fill="#ff4500"/>
<rect x="669" y="254" width="1" height="50" fill="#ff0000"/>
<rect x="667" y="284" width="5" height="7" fill="#ff0000"/>
<rect x="668" y="285" width="3" height="5" fill="#ff4500"/>
<rect x="677" y="280" width="1" height="31" fill="#32cd32"/>
<rect x="675" y="284" width="5" height="26" fill="#32cd32"/>
<rect x="685" y="313" width="1" height="13" fill="#32cd32"/>
<rect x="683" y="313" width="5" height="9" fill="#32cd32"/>
<rect x="693" y="314" width="1" height="29" fill="#32cd32"/>
<rect x="691" y="321" width="5" height="5" fill="#32cd32"/>
<rect x="701" y="296" width="1" height="37" fill="#ff0000"/>
<rect x="699" y="301" width="5" height="25" fill="#ff0000"/>
<rect x="700" y="302" width="3" height="23" fill="#ff4500"/>
<rect x="709" y="256" width="1" height="63" fill="#ff0000"/>
<rect x="707" y="261" width="5" height="41" fill="#ff0000"/>
<rect x="708" y="262" width="3" height="39" fill="#ff4500"/>
<rect x="717" y="236" width="1" height="36" fill="#ff0000"/>
<rect x="715" y="249" width="5" height="13" fill="#ff0000"/>
<rect x="716" y="250" width="3" height="11" fill="#ff4500"/>
<rect x="725" y="240" width="1" height="19" fill="#32cd32"/>
<rect x="723" y="249" width="5" height="3" fill="#32cd32"/>
<rect x="733" y="244" width="1" height="6" fill="#000"/>
<rect x="731" y="249" width="5" height="1" fill="#000"/>
<rect x="741" y="240" width="1" height="26" fill="#ff0000"/>
<rect x="739" y="246" width="5" height="4" fill="#ff0000"/>
<rect x="740" y="247" width="3" height="2" fill="#ff4500"/>
<rect x="749" y="229" width="1" height="29" fill="#32cd32"/>
<rect x="747" y="246" width="5" height="3" fill="#32cd32"/>
<rect x="757" y="223" width="1" height="38" fill="#ff0000"/>
<rect x="755" y="232" width="5" height="17" fill="#ff0000"/>
<rect x="756" y="233" width="3" height="15" fill="#ff4500"/>
<rect x="765" y="221" width="1" height="20" fill="#32cd32"/>
<rect x="763" y="232" width="5" height="6" fill="#32cd32"/>
<rect x="773" y="220" width="1" height="22" fill="#ff0000"/>
<rect x="771" y="224" width="5" height="14" fill="#ff0000"/>
<rect x="772" y="225" width="3" height="12" fill="#ff4500"/>
<rect x="781" y="221" width="1" height="6" fill="#ff0000"/>
<rect x="779" y="226" width="5" height="1" fill="#ff0000"/>
<rect x="789" y="220" width="1" height="60" fill="#32cd32"/>
<rect x="787" y="226" width="5" height="46" fill="#32cd32"/>
<rect x="797" y="238" width="1" height="41" fill="#ff0000"/>
<rect x="795" y="244" width="5" height="28" fill="#ff0000"/>
<rect x="796" y="245" width="3" height="26" fill="#ff4500"/>
<rect x="805" y="223" width="1" height="37" fill="#32cd32"/>
<rect x="803" y="244" width="5" height="12" fill="#32cd32"/>
<rect x="813" y="255" width="1" height="48" fill="#32cd32"/>
<rect x="811" y="256" width="5" height="37" fill="#32cd32"/>
<rect x="821" y="276" width="1" height="37" fill="#ff0000"/>
<rect x="819" y="278" width="5" height="15" fill="#ff0000"/>
<rect x="820" y="279" width="3" height="13" fill="#ff4500"/>
<rect x="829" y="278" width="1" height="9" fill="#ff0000"/>
<rect x="827" y="282" width="5" height="1" fill="#ff0000"/>
<rect x="837" y="267" width="1" height="33" fill="#ff0000"/>
<rect x="835" y="281" width="5" height="2" fill="#ff0000"/>
<rect x="845" y="260" width="1" height="38" fill="#ff0000"/>
<rect x="843" y="262" width="5" height="20" fill="#ff0000"/>
<rect x="844" y="263" width="3" height="18" fill="#ff4500"/>
<rect x="853" y="210" width="1" height="59" fill="#ff0000"/>
<rect x="851" y="217" width="5" height="45" fill="#ff0000"/>
<rect x="852" y="218" width="3" height="43" fill="#ff4500"/>
<rect x="861" y="197" width="1" height="26" fill="#ff0000"/>
<rect x="859" y="217" width="5" height="2" fill="#ff0000"/>
<rect x="869" y="210" width="1" height="60" fill="#32cd32"/>
<rect x="867" y="219" width="5" height="45" fill="#32cd32"/>
<rect x="877" y="257" width="1" height="8" fill="#ff0000"/>
<rect x="875" y="259" width="5" height="1" fill="#ff0000"/>
<rect x="885" y="250" width="1" height="22" fill="#32cd32"/>
<rect x="883" y="258" width="5" height="4" fill="#32cd32"/>
<rect x="893" y="251" width="1" height="37" fill="#32cd32"/>
<rect x="891" y="261" width="5" height="16" fill="#32cd32"/>
<rect x="901" y="244" width="1" height="40" fill="#ff0000"/>
<rect x="899" y="258" width="5" height="18" fill="#ff0000"/>
<rect x="900" y="259" width="3" height="16" fill="#ff4500"/>
<rect x="909" y="220" width="1" height="46" fill="#32cd32"/>
<rect x="907" y="258" width="5" height="1" fill="#32cd32"/>
<rect x="917" y="258" width="1" height="27" fill="#32cd32"/>
<rect x="915" y="258" width="5" height="26" fill="#32cd32"/>
<rect x="5" y="430" width="2" height="5" fill="#c0c0c0"/>
<rect x="12" y="430" width="3" height="5" fill="#c0c0c0"/>
<rect x="20" y="430" width="3" height="5" fill="#c0c0c0"/>
<rect x="28" y="431" width="3" height="4" fill="#c0c0c0"/>
<rect x="36" y="432" width="3" height="3" fill="#c0c0c0"/>
<rect x="44" y="434" width="3" height="1" fill="#c0c0c0"/>
<rect x="52" y="435" width="3" height="3" fill="#c0c0c0"/>
<rect x="60" y="435" width="3" height="5" fill="#c0c0c0"/>
<rect x="68" y="435" width="3" height="7" fill="#c0c0c0"/>
<rect x="76" y="435" width="3" height="10" fill="#c0c0c0"/>
<rect x="84" y="435" width="3" height="12" fill="#c0c0c0"/>
<rect x="92" y="435" width="3" height="11" fill="#c0c0c0"/>
<rect x="100" y="435" width="3" height="11" fill="#c0c0c0"/>
<rect x="108" y="435" width="3" height="11" fill="#c0c0c0"/>
<rect x="116" y="435" width="3" height="10" fill="#c0c0c0"/>
<rect x="124" y="435" width="3" height="11" fill="#c0c0c0"/>
<rect x="132" y="435" width="3" height="14" fill="#c0c0c0"/>
<rect x="140" y="435" width="3" height="14" fill="#c0c0c0"/>
<rect x="148" y="435" width="3" height="13" fill="#c0c0c0"/>
<rect x="156" y="435" width="3" height="11" fill="#c0c0c0"/>
<rect x="164" y="435" width="3" height="10" fill="#c0c0c0"/>
<rect x="172" y="435" width="3" height="8" fill="#c0c0c0"/>
<rect x="180" y="435" width="3" height="6" fill="#c0c0c0"/>
<rect x="188" y="435" width="3" height="4" fill="#c0c0c0"/>
<rect x="196" y="435" width="3" height="3" fill="#c0c0c0"/>
<rect x="204" y="435" width="3" height="2" fill="#c0c0c0"/>
<rect x="212" y="435" width="3" height="1" fill="#c0c0c0"/>
<rect x="220" y="433" width="3" height="2" fill="#c0c0c0"/>
<rect x="228" y="431" width="3" height="4" fill="#c0c0c0"/>
<rect x="236" y="428" width="3" height="7" fill="#c0c0c0"/>
<rect x="244" y="425" width="3" height="10" fill="#c0c0c0"/>
<rect x="252" y="423" width="3" height="12" fill="#c0c0c0"/>
<rect x="260" y="422" width="3" height="13" fill="#c0c0c0"/>
<rect x="268" y="419" width="3" height="16" fill="#c0c0c0"/>
<rect x="276" y="416" width="3" height="19" fill="#c0c0c0"/>
<rect x="284" y="415" width="3" height="20" fill="#c0c0c0"/>
<rect x="292" y="415" width="3" height="20" fill="#c0c0c0"/>
<rect x="300" y="414" width="3" height="21" fill="#c0c0c0"/>
<rect x="308" y="414" width="3" height="21" fill="#c0c0c0"/>
<rect x="316" y="413" width="3" height="22" fill="#c0c0c0"/>
<rect x="324" y="413" width="3" height="22" fill="#c0c0c0"/>
<rect x="332" y="412" width="3" height="23" fill="#c0c0c0"/>
<rect x="340" y="412" width="3" height="23" fill="#c0c0c0"/>
<rect x="348" y="412" width="3" height="23" fill="#c0c0c0"/>
<rect x="356" y="412" width="3" height="23" fill="#c0c0c0"/>
<rect x="364" y="416" width="3" height="19" fill="#c0c0c0"/>
<rect x="372" y="418" width="3" height="17" fill="#c0c0c0"/>
<rect x="380" y="422" width="3" height="13" fill="#c0c0c0"/>
<rect x="388" y="425" width="3" height="10" fill="#c0c0c0"/>
<rect x="396" y="428" width="3" height="7" fill="#c0c0c0"/>
<rect x="404" y="430" width="3" height="5" fill="#c0c0c0"/>
<rect x="412" y="432" width="3" height="3" fill="#c0c0c0"/>
<rect x="420" y="435" width="3" height="2" fill="#c0c0c0"/>
<rect x="428" y="435" width="3" height="6" fill="#c0c0c0"/>
<rect x="436" y="435" width="3" height="8" fill="#c0c0c0"/>
<rect x="444" y="435" width="3" height="10" fill="#c0c0c0"/>
<rect x="452" y="435" width="3" height="10" fill="#c0c0c0"/>
<rect x="460" y="435" width="3" height="12" fill="#c0c0c0"/>
<rect x="468" y="435" width="3" height="15" fill="#c0c0c0"/>
<rect x="476" y="435" width="3" height="16" fill="#c0c0c0"/>
<rect x="484" y="435" width="3" height="19" fill="#c0c0c0"/>
<rect x="492" y="435" width="3" height="20" fill="#c0c0c0"/>
<rect x="500" y="435" width="3" height="22" fill="#c0c0c0"/>
<rect x="508" y="435" width="3" height="23" fill="#c0c0c0"/>
<rect x="516" y="435" width="3" height="24" fill="#c0c0c0"/>
<rect x="524" y="435" width="3" height="26" fill="#c0c0c0"/>
<rect x="532" y="435" width="3" height="29" fill="#c0c0c0"/>
<rect x="540" y="435" width="3" height="30" fill="#c0c0c0"/>
<rect x="548" y="435" width="3" height="31" fill="#c0c0c0"/>
<rect x="556" y="435" width="3" height="31" fill="#c0c0c0"/>
<rect x="564" y="435" width="3" height="32" fill="#c0c0c0"/>
<rect x="572" y="435" width="3" height="33" fill="#c0c0c0"/>
<rect x="580" y="435" width="3" height="37" fill="#c0c0c0"/>
<rect x="588" y="435" width="3" height="38" fill="#c0c0c0"/>
<rect x="596" y="435" width="3" height="38" fill="#c0c0c0"/>
<rect x="604" y="435" width="3" height="35" fill="#c0c0c0"/>
<rect x="612" y="435" width="3" height="31" fill="#c0c0c0"/>
<rect x="620" y="435" width="3" height="28" fill="#c0c0c0"/>
<rect x="628" y="435" width="3" height="24" fill="#c0c0c0"/>
<rect x="636" y="435" width="3" height="21" fill="#c0c0c0"/>
<rect x="644" y="435" width="3" height="20" fill="#c0c0c0"/>
<rect x="652" y="435" width="3" height="20" fill="#c0c0c0"/>
<rect x="660" y="435" width="3" height="17" fill="#c0c0c0"/>
<rect x="668" y="435" width="3" height="15" fill="#c0c0c0"/>
<rect x="676" y="435" width="3" height="14" fill="#c0c0c0"/>
<rect x="684" y="435" width="3" height="14" fill="#c0c0c0"/>
<rect x="692" y="435" width="3" height="14" fill="#c0c0c0"/>
<rect x="700" y="435" width="3" height="13" fill="#c0c0c0"/>
<rect x="708" y="435" width="3" height="9" fill="#c0c0c0"/>
<rect x="716" y="435" width="3" height="6" fill="#c0c0c0"/>
<rect x="724" y="435" width="3" height="3" fill="#c0c0c0"/>
<rect x="732" y="435" width="3" height="1" fill="#c0c0c0"/>
<rect x="740" y="433" width="3" height="2" fill="#c0c0c0"/>
<rect x="748" y="432" width="3" height="3" fill="#c0c0c0"/>
<rect x="756" y="430" width="3" height="5" fill="#c0c0c0"/>
<rect x="764" y="429" width="3" height="6" fill="#c0c0c0"/>
<rect x="772" y="427" width="3" height="8" fill="#c0c0c0"/>
<rect x="780" y="426" width="3" height="9" fill="#c0c0c0"/>
<rect x="788" y="428" width="3" height="7" fill="#c0c0c0"/>
<rect x="796" y="428" width="3" height="7" fill="#c0c0c0"/>
<rect x="804" y="429" width="3" height="6" fill="#c0c0c0"/>
<rect x="812" y="431" width="3" height="4" fill="#c0c0c0"/>
<rect x="820" y="433" width="3" height="2" fill="#c0c0c0"/>
<rect x="828" y="434" width="3" height="1" fill="#c0c0c0"/>
<rect x="836" y="435" width="3" height="1" fill="#c0c0c0"/>
<rect x="844" y="435" width="3" height="1" fill="#c0c0c0"/>
<rect x="852" y="432" width="3" height="3" fill="#c0c0c0"/>
<rect x="860" y="430" width="3" height="5" fill="#c0c0c0"/>
<rect x="868" y="431" width="3" height="4" fill="#c0c0c0"/>
<rect x="876" y="432" width="3" height="3" fill="#c0c0c0"/>
<rect x="884" y="432" width="3" height="3" fill="#c0c0c0"/>
<rect x="892" y="434" width="3" height="1" fill="#c0c0c0"/>
<rect x="900" y="434" width="3" height="1" fill="#c0c0c0"/>
<rect x="908" y="434" width="3" height="1" fill="#c0c0c0"/>
<rect x="916" y="435" width="3" height="1" fill="#c0c0c0"/>
<path fill="none" stroke="#ff0000" stroke-width="1" d="M339 413.5h40M330 414.5h9M379 414.5h6M324 415.5h6M385 415.5h6M318 416.5h6M391 416.5h6M312 417.5h6M397 417.5h5M305 418.5h7M402 418.5h3M298 419.5h7M405 419.5h3M292 420.5h6M408 420.5h3M288 421.5h4M411 421.5h3M286 422.5h2M414 422.5h2M283 423.5h3M416 423.5h3M281 424.5h2M419 424.5h3M278 425.5h3M422 425.5h2M274 426.5h4M424 426.5h3M271 427.5h3M427 427.5h2M17 428.5h24M267 428.5h4M429 428.5h3M9 429.5h8M41 429.5h6M262 429.5h5M432 429.5h2M798 429.5h38M5 430.5h4M47 430.5h4M257 430.5h5M434 430.5h3M792 430.5h6M836 430.5h5M51 431.5h6M252 431.5h5M437 431.5h3M786 431.5h6M841 431.5h10M57 432.5h8M247 432.5h5M440 432.5h3M780 432.5h6M850 432.5h32M905 432.5h9M65 433.5h6M243 433.5h4M443 433.5h4M775 433.5h5M882 433.5h23M914 433.5h3M71 434.5h4M239 434.5h4M447 434.5h3M771 434.5h4M75 435.5h4M235 435.5h4M450 435.5h3M767 435.5h4M79 436.5h4M231 436.5h4M453 436.5h4M763 436.5h4M83 437.5h4M227 437.5h4M457 437.5h4M759 437.5h4M87 438.5h4M222 438.5h5M461 438.5h4M755 438.5h4M91 439.5h6M217 439.5h5M465 439.5h4M751 439.5h4M97 440.5h6M212 440.5h5M469 440.5h3M747 440.5h4M103 441.5h4M206 441.5h6M472 441.5h3M743 441.5h4M107 442.5h6M200 442.5h6M475 442.5h4M739 442.5h4M113 443.5h8M193 443.5h7M479 443.5h3M735 443.5h4M121 444.5h8M185 444.5h8M482 444.5h3M731 444.5h4M129 445.5h16M169 445.5h16M485 445.5h4M727 445.5h4M145 446.5h24M489 446.5h4M721 446.5h6M493 447.5h4M716 447.5h5M497 448.5h5M711 448.5h5M502 449.5h5M705 449.5h6M507 450.5h6M700 450.5h5M513 451.5h4M693 451.5h7M517 452.5h4M685 452.5h8M521 453.5h4M680 453.5h5M525 454.5h4M677 454.5h3M529 455.5h5M674 455.5h3M534 456.5h5M671 456.5h3M539 457.5h6M668 457.5h3M545 458.5h4M665 458.5h3M549 459.5h4M663 459.5h2M553 460.5h4M660 460.5h3M557 461.5h4M656 461.5h4M561 462.5h6M652 462.5h4M567 463.5h8M647 463.5h5M575 464.5h7M641 464.5h6M582 465.5h5M636 465.5h5M587 466.5h5M630 466.5h6M592 467.5h7M625 467.5h5M599 468.5h26"/>
<line x1="6" x2="1167" y1="500.5" y2="500.5" stroke="#c0c0c0" stroke-width="1" stroke-dasharray="3 3"/>
<line x1="6" x2="1167" y1="528.5" y2="528.5" stroke="#c0c0c0" stroke-width="1" stroke-dasharray="3 3"/>
<path fill="none" stroke="#1e90ff" stroke-width="1" d="M276 498.5h2M273 499.5h3M278 499.5h1M271 500.5h2M279 500.5h1M268 501.5h3M280 501.5h1M315 501.5h4M331 501.5h6M266 502.5h2M281 502.5h2M311 502.5h4M319 502.5h4M327 502.5h4M337 502.5h8M249 503.5h6M264 503.5h2M283 503.5h1M307 503.5h4M323 503.5h4M345 503.5h13M235 504.5h14M255 504.5h4M262 504.5h2M284 504.5h1M303 504.5h4M358 504.5h1M231 505.5h4M259 505.5h3M285 505.5h18M358 505.5h1M229 506.5h2M359 506.5h1M771 506.5h6M227 507.5h2M360 507.5h1M755 507.5h6M767 507.5h4M777 507.5h5M853 507.5h9M225 508.5h2M361 508.5h1M751 508.5h4M761 508.5h6M782 508.5h1M852 508.5h1M862 508.5h1M213 509.5h2M224 509.5h1M361 509.5h1M715 509.5h6M729 509.5h22M783 509.5h1M851 509.5h1M863 509.5h1M211 510.5h2M215 510.5h4M222 510.5h2M362 510.5h1M711 510.5h4M721 510.5h8M784 510.5h1M849 510.5h2M864 510.5h1M188 511.5h5M209 511.5h2M219 511.5h3M363 511.5h1M372 511.5h2M709 511.5h2M785 511.5h1M797 511.5h2M848 511.5h1M865 511.5h1M186 512.5h2M193 512.5h6M208 512.5h1M364 512.5h1M369 512.5h3M374 512.5h1M707 512.5h2M785 512.5h1M795 512.5h2M799 512.5h4M847 512.5h1M866 512.5h1M5 513.5h17M184 513.5h2M199 513.5h4M206 513.5h2M364 513.5h1M367 513.5h2M375 513.5h2M705 513.5h2M786 513.5h1M793 513.5h2M803 513.5h3M846 513.5h1M867 513.5h1M22 514.5h2M161 514.5h16M182 514.5h2M203 514.5h3M365 514.5h2M377 514.5h1M704 514.5h1M787 514.5h1M792 514.5h1M806 514.5h1M844 514.5h2M868 514.5h1M873 514.5h8M900 514.5h11M24 515.5h1M36 515.5h2M153 515.5h8M177 515.5h5M378 515.5h1M661 515.5h10M702 515.5h2M788 515.5h1M790 515.5h2M807 515.5h2M841 515.5h3M869 515.5h4M881 515.5h6M897 515.5h3M911 515.5h2M25 516.5h2M33 516.5h3M38 516.5h2M93 516.5h1M148 516.5h5M379 516.5h2M403 516.5h3M627 516.5h12M659 516.5h2M671 516.5h2M700 516.5h2M789 516.5h1M809 516.5h1M820 516.5h5M839 516.5h2M887 516.5h4M895 516.5h2M913 516.5h3M27 517.5h2M31 517.5h2M40 517.5h2M92 517.5h1M94 517.5h2M115 517.5h4M146 517.5h2M381 517.5h4M399 517.5h4M406 517.5h2M612 517.5h5M623 517.5h4M639 517.5h2M658 517.5h1M673 517.5h3M698 517.5h2M810 517.5h1M817 517.5h3M825 517.5h14M891 517.5h4M916 517.5h2M29 518.5h2M42 518.5h2M91 518.5h1M96 518.5h2M111 518.5h4M119 518.5h2M144 518.5h2M385 518.5h14M408 518.5h2M610 518.5h2M617 518.5h6M641 518.5h3M657 518.5h1M676 518.5h5M696 518.5h2M811 518.5h2M815 518.5h2M44 519.5h3M90 519.5h1M98 519.5h2M105 519.5h6M121 519.5h3M142 519.5h2M410 519.5h2M608 519.5h2M644 519.5h3M655 519.5h2M681 519.5h8M694 519.5h2M813 519.5h2M47 520.5h4M89 520.5h1M100 520.5h5M124 520.5h2M141 520.5h1M412 520.5h3M449 520.5h6M606 520.5h2M647 520.5h4M654 520.5h1M689 520.5h5M51 521.5h6M88 521.5h1M126 521.5h2M139 521.5h2M415 521.5h2M437 521.5h12M455 521.5h2M605 521.5h1M651 521.5h3M57 522.5h14M87 522.5h1M128 522.5h1M137 522.5h2M417 522.5h3M435 522.5h2M457 522.5h3M604 522.5h1M71 523.5h4M86 523.5h1M129 523.5h2M136 523.5h1M420 523.5h3M433 523.5h2M460 523.5h3M603 523.5h1M75 524.5h11M131 524.5h2M134 524.5h2M423 524.5h2M432 524.5h1M463 524.5h4M473 524.5h6M602 524.5h1M133 525.5h1M425 525.5h3M430 525.5h2M467 525.5h6M479 525.5h2M601 525.5h1M428 526.5h2M481 526.5h3M600 526.5h1M484 527.5h21M599 527.5h1M505 528.5h8M598 528.5h1M513 529.5h6M597 529.5h1M519 530.5h4M540 530.5h13M595 530.5h2M523 531.5h4M538 531.5h2M553 531.5h8M593 531.5h2M527 532.5h2M536 532.5h2M561 532.5h8M592 532.5h1M529 533.5h3M534 533.5h2M569 533.5h5M590 533.5h2M532 534.5h2M574 534.5h2M588 534.5h2M576 535.5h2M585 535.5h3M578 536.5h2M583 536.5h2M580 537.5h3"/>
<rect x="4" y="26" width="1164" height="1" fill="#000"/>
<rect x="4" y="405" width="1164" height="1" fill="#000"/>
<rect x="4" y="407" width="1164" height="1" fill="#000"/>
<rect x="4" y="476" width="1164" height="1" fill="#000"/>
<rect x="4" y="478" width="1164" height="1" fill="#000"/>
<rect x="4" y="550" width="1164" height="1" fill="#000"/>
<rect x="4" y="26" width="1" height="380" fill="#000"/>
<rect x="4" y="407" width="1" height="70" fill="#000"/>
<rect x="4" y="478" width="1" height="73" fill="#000"/>
<rect x="1167" y="26" width="1" height="525" fill="#000"/>
<rect x="1167" y="46" width="2" height="2" fill="#ff0000"/>
<rect x="1167" y="141" width="2" height="2" fill="#ff0000"/>
<rect x="1167" y="241" width="2" height="2" fill="#00ff00"/>
<rect x="1167" y="329" width="2" height="2" fill="#0000cd"/>
<rect x="1167" y="400" width="2" height="2" fill="#0000ff"/>
<rect x="6" y="44" width="223" height="60" fill="#fff"/>
<rect x="1168" y="39" width="2" height="1" fill="#000"/>
<text class="t" transform="translate(1173.2,42.5) scale(.89,1)">0.75640</text>
<rect x="1168" y="72" width="2" height="1" fill="#000"/>
<text class="t" transform="translate(1173.2,75.5) scale(.89,1)">0.75115</text>
<rect x="1168" y="105" width="2" height="1" fill="#000"/>
<text class="t" transform="translate(1173.2,108.5) scale(.89,1)">0.74590</text>
<rect x="1168" y="138" width="2" height="1" fill="#000"/>
<text class="t" transform="translate(1173.2,141.5) scale(.89,1)">0.74065</text>
<rect x="1168" y="171" width="2" height="1" fill="#000"/>
<text class="t" transform="translate(1173.2,174.5) scale(.89,1)">0.73540</text>
<rect x="1168" y="204" width="2" height="1" fill="#000"/>
<text class="t" transform="translate(1173.2,207.5) scale(.89,1)">0.73015</text>
<rect x="1168" y="237" width="2" height="1" fill="#000"/>
<text class="t" transform="translate(1173.2,240.5) scale(.89,1)">0.72490</text>
<rect x="1168" y="270" width="2" height="1" fill="#000"/>
<text class="t" transform="translate(1173.2,273.5) scale(.89,1)">0.71965</text>
<rect x="1168" y="303" width="2" height="1" fill="#000"/>
<text class="t" transform="translate(1173.2,306.5) scale(.89,1)">0.71440</text>
<rect x="1168" y="336" width="2" height="1" fill="#000"/>
<text class="t" transform="translate(1173.2,339.5) scale(.89,1)">0.70915</text>
<rect x="1168" y="369" width="2" height="1" fill="#000"/>
<text class="t" transform="translate(1173.2,372.5) scale(.89,1)">0.70390</text>
<rect x="1168" y="435" width="2" height="1" fill="#000"/>
<text class="t" transform="translate(1171,417.7) scale(.9,1)">0.006201</text>
<text class="t" transform="translate(1171,438.6) scale(.9,1)">0.00</text>
<text class="t" transform="translate(1171,472.6) scale(.9,1)">-0.009197</text>
<text class="t" transform="translate(1171,487.8) scale(.9,1)">100</text>
<text class="t" transform="translate(1171,503.5) scale(.9,1)">70</text>
<text class="t" transform="translate(1171,531.3) scale(.9,1)">30</text>
<text class="t" transform="translate(1171,545.6) scale(.9,1)">0</text>
<rect x="1169" y="41" width="39" height="11" fill="#ff0000"/>
<text class="w" transform="translate(1173.2,50) scale(.89,1)">0.75512</text>
<rect x="1169" y="136" width="39" height="11" fill="#ff0000"/>
<text class="w" transform="translate(1173.2,145) scale(.89,1)">0.74002</text>
<rect x="1169" y="236" width="39" height="11" fill="#00ff00"/>
<text class="w" transform="translate(1173.2,245) scale(.89,1)">0.72412</text>
<rect x="1169" y="278" width="39" height="11" fill="#000"/>
<text class="w" transform="translate(1173.2,287) scale(.89,1)">0.71754</text>
<rect x="1169" y="324" width="39" height="11" fill="#0000cd"/>
<text class="w" transform="translate(1173.2,333) scale(.89,1)">0.71013</text>
<rect x="1169" y="395" width="39" height="11" fill="#0000ff"/>
<text class="w" transform="translate(1173.2,404) scale(.89,1)">0.69884</text>
<rect x="5" y="551" width="1" height="3" fill="#000"/>
<text class="t" transform="translate(4.2,563) scale(.9,1)">10 Sep 2021</text>
<rect x="69" y="551" width="1" height="3" fill="#000"/>
<text class="t" transform="translate(68.2,563) scale(.9,1)">20 Sep 2021</text>
<rect x="133" y="551" width="1" height="3" fill="#000"/>
<text class="t" transform="translate(132.2,563) scale(.9,1)">29 Sep 2021</text>
<rect x="197" y="551" width="1" height="3" fill="#000"/>
<text class="t" transform="translate(196.2,563) scale(.9,1)">8 Oct 2021</text>
<rect x="261" y="551" width="1" height="3" fill="#000"/>
<text class="t" transform="translate(260.2,563) scale(.9,1)">18 Oct 2021</text>
<rect x="325" y="551" width="1" height="3" fill="#000"/>
<text class="t" transform="translate(324.2,563) scale(.9,1)">27 Oct 2021</text>
<rect x="389" y="551" width="1" height="3" fill="#000"/>
<text class="t" transform="translate(388.2,563) scale(.9,1)">5 Nov 2021</text>
<rect x="453" y="551" width="1" height="3" fill="#000"/>
<text class="t" transform="translate(452.2,563) scale(.9,1)">15 Nov 2021</text>
<rect x="517" y="551" width="1" height="3" fill="#000"/>
<text class="t" transform="translate(516.2,563) scale(.9,1)">24 Nov 2021</text>
<rect x="581" y="551" width="1" height="3" fill="#000"/>
<text class="t" transform="translate(580.2,563) scale(.9,1)">3 Dec 2021</text>
<rect x="645" y="551" width="1" height="3" fill="#000"/>
<text class="t" transform="translate(644.2,563) scale(.9,1)">13 Dec 2021</text>
<rect x="709" y="551" width="1" height="3" fill="#000"/>
<text class="t" transform="translate(708.2,563) scale(.9,1)">22 Dec 2021</text>
<rect x="773" y="551" width="1" height="3" fill="#000"/>
<text class="t" transform="translate(772.2,563) scale(.9,1)">31 Dec 2021</text>
<rect x="837" y="551" width="1" height="3" fill="#000"/>
<text class="t" transform="translate(836.2,563) scale(.9,1)">10 Jan 2022</text>
<rect x="901" y="551" width="1" height="3" fill="#000"/>
<text class="t" transform="translate(900.2,563) scale(.9,1)">19 Jan 2022</text>
<polygon points="8,37.6 15.2,37.6 11.6,32.9" fill="#000" shape-rendering="auto"/>
<text class="t" transform="translate(20.6,38) scale(1,1)" textLength="68.8" lengthAdjust="spacingAndGlyphs">AUDUSD-,Daily</text>
<text class="t" transform="translate(94.8,38) scale(1,1)" textLength="141.6" lengthAdjust="spacingAndGlyphs">0.72158 0.72175 0.71741 0.71754</text>
<text class="t" transform="translate(9,420) scale(1,1)" textLength="148.5" lengthAdjust="spacingAndGlyphs">MACD(12,26,9) 0.000054 0.000672</text>
<text class="t" transform="translate(9,491) scale(1,1)" textLength="68.5" lengthAdjust="spacingAndGlyphs">RSI(14) 45.1318</text>
</svg>
<div class="abs" style="left:8px;top:46px;width:52px;height:24px;background:linear-gradient(#5555f2 0px,#0000a8 57px);background-size:100% 57px"></div>
<div class="abs" style="left:8px;top:70px;width:109px;height:33px;background:linear-gradient(#5555f2 0px,#0000a8 57px);background-size:100% 57px;background-position:0 -24px"></div>
<div class="abs" style="left:175px;top:46px;width:52px;height:24px;background:linear-gradient(#5555f2 0px,#0000a8 57px);background-size:100% 57px"></div>
<div class="abs" style="left:119px;top:70px;width:108px;height:33px;background:linear-gradient(#5555f2 0px,#0000a8 57px);background-size:100% 57px;background-position:0 -24px"></div>
<div class="abs" style="left:12px;top:70px;width:44px;height:1px;background:#9a9af8"></div>
<div class="abs" style="left:179px;top:70px;width:44px;height:1px;background:#9a9af8"></div>
<div class="abs" style="left:62px;top:46px;width:109px;height:20px;border:1px solid #b4b4b4;background:#fff"></div>
<div class="abs" style="left:64px;top:48px;width:19px;height:18px;background:linear-gradient(#f4f4f4 0,#ececec 45%,#dcdcdc 50%,#cfcfcf 100%);border-right:1px solid #b4b4b4"></div>
<div class="abs" style="left:151px;top:48px;width:20px;height:18px;background:linear-gradient(#f4f4f4 0,#ececec 45%,#dcdcdc 50%,#cfcfcf 100%);border-left:1px solid #b4b4b4"></div>
<svg class="abs" style="left:62px;top:46px" width="111" height="22"><polygon points="7.5,9.5 13.5,9.5 10.5,12.5" fill="#4a62c4"/><polygon points="96.5,12.5 102.5,12.5 99.5,9.3" fill="#4a62c4"/></svg>
<div class="abs" style="left:84px;top:46px;width:64.5px;height:22px;line-height:22px;text-align:right;font-size:12.6px;color:#000">3.00</div>
<svg class="abs" style="left:0;top:0" width="240" height="110" viewBox="0 0 240 110"><defs><linearGradient id="pg" gradientUnits="userSpaceOnUse" x1="0" y1="46" x2="0" y2="103"><stop offset="0" stop-color="#5555f2"/><stop offset="1" stop-color="#0000a8"/></linearGradient></defs>
<text x="20.5" y="62" font-size="13" fill="#fff" textLength="25.5" lengthAdjust="spacingAndGlyphs">SELL</text>
<text x="188.5" y="62" font-size="13" fill="#fff" textLength="23" lengthAdjust="spacingAndGlyphs">BUY</text>
<text x="28" y="98" font-size="12.5" fill="#fff" textLength="24" lengthAdjust="spacingAndGlyphs" font-weight="bold">0.71</text>
<text x="138" y="98" font-size="12.5" fill="#fff" textLength="24" lengthAdjust="spacingAndGlyphs" font-weight="bold">0.71</text>
<text x="56.3" y="98.6" font-size="36" fill="#fff" textLength="34.3" lengthAdjust="spacingAndGlyphs" stroke="url(#pg)" stroke-width="0.55">75</text>
<text x="165.6" y="98.6" font-size="36" fill="#fff" textLength="36.8" lengthAdjust="spacingAndGlyphs" stroke="url(#pg)" stroke-width="0.55">77</text>
<text x="95" y="82" font-size="12.5" fill="#fff" textLength="7.5" lengthAdjust="spacingAndGlyphs" font-weight="bold">4</text>
<text x="206.5" y="82" font-size="12.5" fill="#fff" textLength="7" lengthAdjust="spacingAndGlyphs" font-weight="bold">3</text>
</svg>
<div class="abs" style="left:214px;top:573px;width:107px;height:18px;background:#fff;border:1px solid #000;border-top:1px solid #fff"></div>
<div class="sep" style="left:106px"></div>
<div class="sep" style="left:418px"></div>
<div class="sep" style="left:526px"></div>
<div class="sep" style="left:638px"></div>
<div class="sep" style="left:734px"></div>
<div class="sep" style="left:814px"></div>
<div class="sep" style="left:902px"></div>
<div class="sep" style="left:986px"></div>
<svg class="abs" style="left:1180px;top:576px" width="28" height="14"><polygon points="2,6 6,2.5 6,9.5" fill="#8c8c8c"/><polygon points="25.5,6 21.5,2.5 21.5,9.5" fill="#8c8c8c"/></svg>
<svg class="abs" style="left:0;top:0" width="1208" height="597" viewBox="0 0 1208 597"><text transform="translate(-5.2,14) scale(1,1)" font-size="10.2" fill="#3c3c3c">15</text><text transform="translate(15.1,13) scale(1,1)" font-size="10.2" fill="#000" textLength="18.7" lengthAdjust="spacingAndGlyphs">M30</text><text transform="translate(46.9,14) scale(1,1)" font-size="10.2" fill="#3c3c3c" textLength="12.7" lengthAdjust="spacingAndGlyphs">H1</text><text transform="translate(74.1,14) scale(1,1)" font-size="10.2" fill="#3c3c3c" textLength="13.5" lengthAdjust="spacingAndGlyphs">H4</text><text transform="translate(103.1,14) scale(1,1)" font-size="10.2" fill="#3c3c3c" textLength="12.5" lengthAdjust="spacingAndGlyphs">D1</text><text transform="translate(130.4,14) scale(1,1)" font-size="10.2" fill="#3c3c3c" textLength="15.2" lengthAdjust="spacingAndGlyphs">W1</text><text transform="translate(157.1,14) scale(1,1)" font-size="10.2" fill="#3c3c3c" textLength="15.8" lengthAdjust="spacingAndGlyphs">MN</text><text transform="translate(16.9,588) scale(1,1)" font-size="13.5" fill="#7d7d7d" textLength="78.7" lengthAdjust="spacingAndGlyphs">USDX,Weekly</text><text transform="translate(116.9,588) scale(1,1)" font-size="13.5" fill="#7d7d7d" textLength="85.7" lengthAdjust="spacingAndGlyphs">EURUSD-,Daily</text><text transform="translate(223.6,588) scale(1,1)" font-size="13.5" fill="#000" textLength="87.7" lengthAdjust="spacingAndGlyphs">AUDUSD-,Daily</text><text transform="translate(333.6,588) scale(1,1)" font-size="13.5" fill="#7d7d7d" textLength="73.2" lengthAdjust="spacingAndGlyphs">USDCHF-,H4</text><text transform="translate(428.6,588) scale(1,1)" font-size="13.5" fill="#7d7d7d" textLength="87.0" lengthAdjust="spacingAndGlyphs">USDCAD-,Daily</text><text transform="translate(537.4,588) scale(1,1)" font-size="13.5" fill="#7d7d7d" textLength="88.9" lengthAdjust="spacingAndGlyphs">USDCNH-,Daily</text><text transform="translate(648.6,588) scale(1,1)" font-size="13.5" fill="#7d7d7d" textLength="74.5" lengthAdjust="spacingAndGlyphs">XAUUSD-,H1</text><text transform="translate(744.9,588) scale(1,1)" font-size="13.5" fill="#7d7d7d" textLength="57.7" lengthAdjust="spacingAndGlyphs">UKOil-,H1</text><text transform="translate(825.6,588) scale(1,1)" font-size="13.5" fill="#7d7d7d" textLength="65.0" lengthAdjust="spacingAndGlyphs">DJ30-,Daily</text><text transform="translate(913.1,588) scale(1,1)" font-size="13.5" fill="#7d7d7d" textLength="62.0" lengthAdjust="spacingAndGlyphs">UK100-,H1</text></svg>
</body></html>
